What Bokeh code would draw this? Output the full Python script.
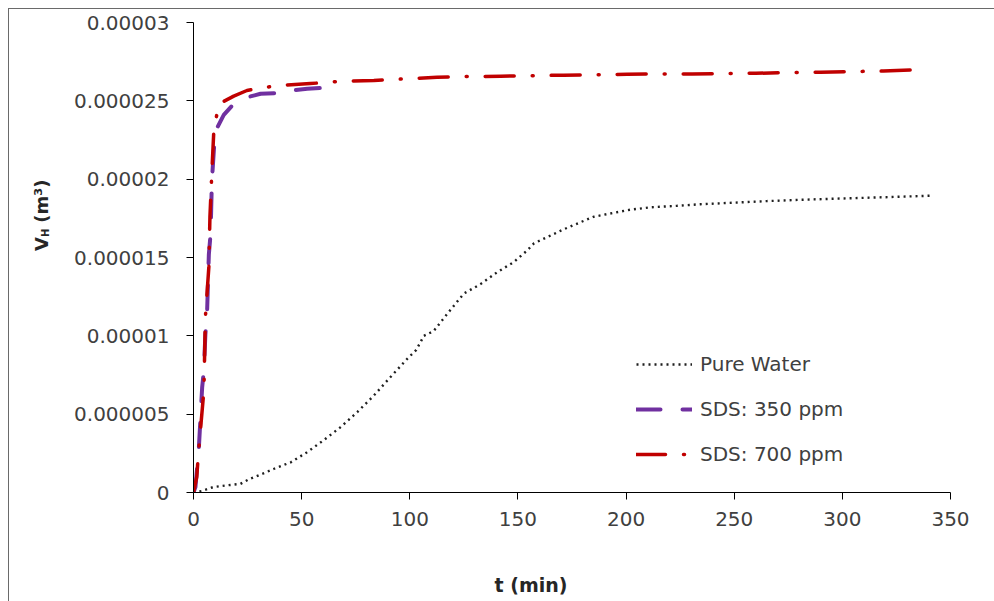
import numpy as np
from bokeh.plotting import figure
from bokeh.models import Legend, LegendItem, FixedTicker, Label
from bokeh.embed import file_html
from bokeh.resources import INLINE

# ---------------- data ----------------
x_ticks = [0, 50, 100, 150, 200, 250, 300, 350]
y_ticks = [0, 5e-6, 1e-5, 1.5e-5, 2e-5, 2.5e-5, 3e-5]
y_tick_labels = ["0", "0.000005", "0.00001", "0.000015", "0.00002", "0.000025", "0.00003"]

series_names = ["Pure Water", "SDS: 350 ppm", "SDS: 700 ppm"]

# time (min) and hydrate volume (x 1e-6 m^3)
t_water = [0, 4, 9, 15, 21.7, 26, 32, 37, 45, 52.5, 60, 68, 75.7, 83.4, 91, 98.8, 103,
           106.5, 111, 117.3, 125, 132.7, 140.4, 148, 154.3, 157.4, 163.5, 171.2, 178.9,
           185, 194.3, 202, 211, 223.6, 234.4, 250, 265, 280, 296, 320, 342]
v_water = [0, 0.1, 0.34, 0.45, 0.55, 0.87, 1.2, 1.5, 1.93, 2.57, 3.32, 4.17, 5.13, 6.19,
           7.36, 8.53, 9.1, 10.0, 10.3, 11.4, 12.7, 13.3, 14.06, 14.7, 15.45, 15.9, 16.3,
           16.8, 17.25, 17.6, 17.85, 18.05, 18.2, 18.3, 18.4, 18.5, 18.6, 18.68, 18.75,
           18.85, 18.95]

t_sds350 = [0, 0.9, 2.5, 4, 4.8, 5.5, 6.3, 7.1, 7.9, 8.5, 9.3, 10, 11, 14, 17.9, 24,
            31, 38.7, 45, 52.6, 60.2, 64]
v_sds350 = [0, 0.34, 2.9, 6.7, 7.8, 10.1, 11.6, 15.2, 16.5, 19.9, 21.6, 23.1, 23.3,
            24.1, 24.7, 25.2, 25.45, 25.5, 25.65, 25.77, 25.83, 25.9]

t_sds700 = [0, 1.5, 2.4, 4.8, 5.5, 7.1, 7.6, 8.5, 9.4, 11.7, 18.6, 24.7, 38.7, 54, 68,
            83.4, 97.3, 112.6, 126.5, 142, 155.8, 171, 186.6, 200.4, 216, 230.5, 260,
            275, 290, 304.5, 319, 334]
v_sds700 = [0, 1.0, 2.7, 6.5, 11.2, 14.4, 17.6, 20.5, 23.1, 24.8, 25.3, 25.66, 25.98,
            26.1, 26.25, 26.3, 26.4, 26.5, 26.55, 26.57, 26.6, 26.64, 26.66, 26.7, 26.72,
            26.72, 26.76, 26.8, 26.83, 26.87, 26.9, 26.98]

SCALE = 1e-6

# ---------------- figure ----------------
FONT = "DejaVu Sans"
TXT = "#404040"
TITLE_C = "#262626"

p = figure(width=986, height=593, output_backend="svg", toolbar_location=None,
           x_range=(0, 350), y_range=(0, 3e-5),
           min_border_left=184, min_border_right=45, min_border_top=13,
           min_border_bottom=110,
           styles={"margin-left": "8px", "margin-top": "8px",
                   "border-left": "1.5px solid #6a6a6a",
                   "border-top": "1.5px solid #6a6a6a"})
p.outline_line_color = None
p.xgrid.visible = False
p.ygrid.visible = False
p.background_fill_color = "white"
p.border_fill_color = "white"

for ax in (p.xaxis[0], p.yaxis[0]):
    ax.axis_line_color = "black"
    ax.axis_line_width = 1
    ax.major_tick_line_color = "black"
    ax.major_tick_out = 7
    ax.major_tick_in = 0
    ax.minor_tick_line_color = None
    ax.major_label_text_font = FONT
    ax.major_label_text_font_size = "20px"
    ax.major_label_text_color = TXT

p.xaxis.ticker = FixedTicker(ticks=x_ticks)
p.yaxis.ticker = FixedTicker(ticks=y_ticks)
p.yaxis.major_label_overrides = {float(k): lab for k, lab in zip(y_ticks, y_tick_labels)}
p.yaxis.major_label_standoff = 17
p.xaxis.major_label_standoff = 12

r_water = p.line(t_water, np.array(v_water) * SCALE, line_color="#1f1f1f", line_width=2.4,
                 line_dash="2 4", line_cap="butt")
r_350 = p.line(t_sds350, np.array(v_sds350) * SCALE, line_color="#7030A0", line_width=4,
               line_dash="24 22", line_cap="round", line_join="round")
r_700 = p.line(t_sds700, np.array(v_sds700) * SCALE, line_color="#C00000", line_width=3.5,
               line_dash="29 18 1 18", line_cap="round", line_join="round")

legend = Legend(items=[LegendItem(label=series_names[0], renderers=[r_water]),
                       LegendItem(label=series_names[1], renderers=[r_350]),
                       LegendItem(label=series_names[2], renderers=[r_700])],
                location=(443, 26), orientation="vertical",
                glyph_width=56, glyph_height=22, label_height=22, spacing=21,
                label_standoff=8, padding=0, margin=0,
                border_line_color=None, background_fill_alpha=0,
                label_text_font=FONT, label_text_font_size="20px",
                label_text_color=TXT)
p.add_layout(legend)

# Axis titles: labels in side panels (not clipped), placed in canvas pixels
p.add_layout(Label(x=520.5, y=574, x_units="canvas", y_units="canvas", text="t (min)",
                   text_align="center", text_baseline="middle", text_font=FONT,
                   text_font_size="19px", text_font_style="bold", text_color=TITLE_C),
             "below")

y_title_parts = [("V", "18px", 30.5, 240.5, "left"),
                 ("H", "10px", 35, 226.6, "right"),
                 ("(m³)", "18px", 30.5, 212.2, "right")]
for txt, size, cx, cy, side in y_title_parts:
    p.add_layout(Label(x=cx, y=cy, x_units="canvas", y_units="canvas",
                       text=txt, angle=90, angle_units="deg", text_align="left",
                       text_baseline="middle", text_font=FONT, text_font_size=size,
                       text_font_style="bold", text_color=TITLE_C), side)

open("out.html", "w").write(file_html(p, INLINE))
